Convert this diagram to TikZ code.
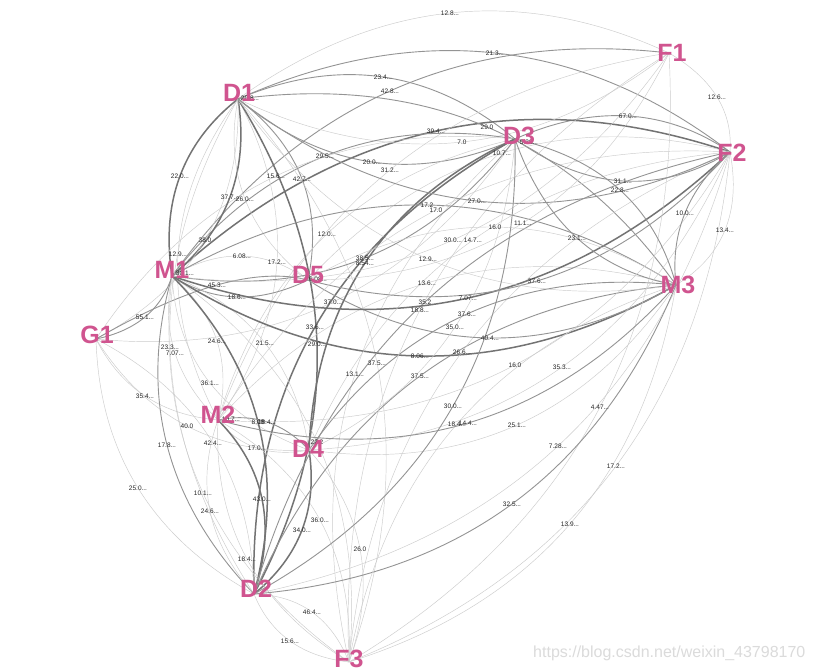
\documentclass[tikz,border=0pt]{standalone}
\usepackage{fontspec}
\setmainfont{Liberation Sans}
\usetikzlibrary{calc}
\definecolor{npink}{RGB}{208,84,143}
\pgfdeclarelayer{fg}
\pgfsetlayers{main,fg}
\tikzset{
  eL/.style={draw=black!20, line width=0.45pt},
  eM/.style={draw=black!42, line width=0.9pt},
  eT/.style={draw=black!55, line width=1.5pt},
  elbl/.style={font=\fontsize{6.5}{6.5}\selectfont, text=black!85, inner sep=0pt},
  nlbl/.style={font=\fontsize{25}{25}\selectfont\bfseries, text=npink, inner sep=0pt, anchor=base},
  wmark/.style={font=\fontsize{16}{16}\selectfont, text=black!14, inner sep=0pt, anchor=base west}
}
\newcommand\ed[7][eL]{%
  \coordinate (ll) at (#4,#5);
  \path let \p1=(#2), \p2=(#3), \p3=(ll) in
    ({2*(\x3)-0.5*(\x1)-0.5*(\x2)},{2*(\y3)-0.5*(\y1)-0.5*(\y2)}) coordinate (qq);
  \draw[#1] (#2) .. controls ($(#2)!0.6667!(qq)$) and ($(#3)!0.6667!(qq)$) .. (#3);
  \begin{pgfonlayer}{fg}\node[elbl] (#7) at (ll) {#6};\end{pgfonlayer}
}
\begin{document}
\begin{tikzpicture}[x=1pt,y=-1pt]
\useasboundingbox[fill=white] (0,0) rectangle (813,671);
% node points
\coordinate (F1) at (669,53);
\coordinate (D1) at (238,99);
\coordinate (D3) at (515,139);
\coordinate (F2) at (730,152);
\coordinate (M1) at (172,276);
\coordinate (D5) at (308,280);
\coordinate (M3) at (676,285);
\coordinate (G1) at (96,339);
\coordinate (M2) at (218,420);
\coordinate (D4) at (309,450);
\coordinate (D2) at (254,594);
\coordinate (F3) at (349,662);
% edges
\ed[eL]{D1}{F1}{450}{13}{12.8...}{e1}
\ed[eM]{D1}{F2}{495}{53}{21.3...}{e2}
\ed[eM]{D1}{D3}{383}{77}{23.4...}{e3}
\ed[eM]{M1}{F1}{390}{91}{42.8...}{e4}
\ed[eL]{F1}{F2}{717}{97}{12.6...}{e5}
\ed[eM]{D3}{F2}{628}{116}{67.0...}{e6}
\ed[eT]{M1}{F2}{436}{131}{39.4...}{e7}
\ed[eM]{D1}{M3}{487}{127}{29.0}{e8}
\ed[eL]{F1}{D1}{462}{142}{7.0}{e9}
\ed[eL]{D5}{F2}{502}{153}{10.7...}{e10}
\ed[eM]{D3}{D1}{372}{162}{20.0...}{e11}
\ed[eL]{M2}{F1}{390}{170}{31.2...}{e12}
\ed[eM]{M1}{D3}{325}{156}{29.5...}{e13}
\ed[eT]{M1}{D1}{180}{176}{22.0...}{e14}
\ed[eL]{G1}{D3}{276}{176}{15.6...}{e15}
\ed[eM]{D1}{D5}{302}{179}{42.7...}{e16}
\ed[eT]{D1}{M1}{230}{197}{37.7...}{e17}
\ed[eL]{D5}{D1}{245}{199}{26.0...}{e18}
\ed[eL]{D1}{G1}{205}{240}{38.0}{e19}
\ed[eL]{M2}{D1}{178}{254}{12.9...}{e20}
\ed[eL]{M1}{D5}{242}{256}{6.08...}{e21}
\ed[eL]{D1}{M2}{277}{262}{17.2...}{e22}
\ed[eL]{M2}{D3}{327}{234}{12.0...}{e23}
\ed[eM]{G1}{D5}{217}{285}{45.3...}{e24}
\ed[eM]{D5}{M1}{237}{297}{18.6...}{e25}
\ed[eL]{D3}{G1}{333}{302}{37.0...}{e26}
\ed[eM]{M1}{G1}{145}{317}{55.1...}{e27}
\ed[eT]{D2}{D3}{315}{327}{33.6...}{e28}
\ed[eL]{M1}{M2}{217}{341}{24.6...}{e29}
\ed[eL]{M1}{D4}{265}{343}{21.5...}{e30}
\ed[eT]{D1}{D2}{317}{344}{29.0...}{e31}
\ed[eL]{D2}{D1}{170}{347}{23.3...}{e32}
\ed[eL]{M2}{M1}{175}{353}{7.07...}{e33}
\ed[eL]{D4}{M1}{210}{383}{36.1...}{e34}
\ed[eL]{M2}{G1}{145}{396}{35.4...}{e35}
\ed[eL]{D4}{G1}{187}{426}{40.0}{e36}
\ed[eM]{D2}{M1}{167}{445}{17.8...}{e37}
\ed[eL]{G1}{D2}{213}{443}{42.4...}{e38}
\ed[eT]{M1}{D2}{258}{422}{8.08}{e39}
\ed[eM]{M2}{D4}{267}{422}{18.4...}{e40}
\ed[eL]{D4}{M2}{257}{448}{17.0...}{e41}
\ed[eL]{M1}{F3}{317}{442}{22.2}{e42}
\ed[eL]{D2}{G1}{138}{488}{25.0...}{e43}
\ed[eL]{F3}{M1}{203}{493}{10.1...}{e44}
\ed[eL]{D2}{M2}{210}{511}{24.6...}{e45}
\ed[eT]{M2}{D2}{262}{499}{43.0...}{e46}
\ed[eL]{M2}{F3}{320}{520}{36.0...}{e47}
\ed[eT]{D4}{D2}{302}{530}{34.0...}{e48}
\ed[eL]{F3}{M2}{247}{559}{18.4...}{e49}
\ed[eL]{D2}{F3}{312}{612}{46.4...}{e50}
\ed[eL]{F3}{D2}{290}{641}{15.6...}{e51}
\ed[eL]{D4}{F3}{360}{549}{26.0}{e52}
\ed[eL]{F3}{D3}{355}{374}{13.1...}{e53}
\ed[eL]{D1}{F3}{377}{363}{37.5...}{e54}
\ed[eM]{D2}{M3}{420}{376}{37.5...}{e55}
\ed[eT]{M3}{M1}{420}{356}{8.06...}{e56}
\ed[eL]{F3}{F2}{462}{352}{26.6...}{e57}
\ed[eM]{M3}{D5}{490}{338}{40.4...}{e58}
\ed[eL]{D3}{D4}{455}{327}{35.0...}{e59}
\ed[eM]{D4}{M3}{467}{314}{37.6...}{e60}
\ed[eL]{F3}{F1}{420}{310}{18.8...}{e61}
\ed[eM]{D2}{F2}{425}{302}{35.2}{e62}
\ed[eL]{M2}{M3}{427}{283}{13.6...}{e63}
\ed[eT]{F2}{M1}{468}{298}{7.07...}{e64}
\ed[eM]{F2}{D5}{537}{281}{37.6...}{e65}
\ed[eL]{M3}{D1}{428}{259}{12.9...}{e66}
\ed[eM]{D3}{M1}{365}{258}{38.5...}{e67}
\ed[eT]{D4}{D3}{365}{263}{8.54...}{e68}
\ed[eM]{M1}{M3}{427}{205}{17.2}{e69}
\ed[eL]{M2}{F2}{436}{210}{17.0}{e70}
\ed[eM]{F2}{D1}{477}{201}{27.0...}{e71}
\ed[eL]{D5}{M3}{495}{227}{16.0}{e72}
\ed[eL]{F1}{D5}{523}{223}{11.1...}{e73}
\ed[eL]{F1}{M1}{453}{240}{30.0...}{e74}
\ed[eL]{D4}{F2}{473}{240}{14.7...}{e75}
\ed[eM]{M3}{D3}{577}{238}{23.1...}{e76}
\ed[eL]{F2}{D4}{562}{367}{35.3...}{e77}
\ed[eL]{F1}{F3}{600}{407}{4.47...}{e78}
\ed[eL]{F2}{D2}{558}{446}{7.28...}{e79}
\ed[eL]{F2}{F3}{616}{466}{17.2...}{e80}
\ed[eL]{M3}{F3}{570}{524}{13.9...}{e81}
\ed[eM]{M3}{D2}{512}{504}{32.5...}{e82}
\ed[eL]{M3}{D4}{517}{425}{25.1...}{e83}
\ed[eM]{D3}{D2}{453}{406}{30.0...}{e84}
\ed[eL]{F3}{M3}{457}{424}{18.4...}{e85}
\ed[eM]{M3}{M2}{468}{423}{14.4...}{e86}
\ed[eL]{F2}{M2}{515}{365}{16.0}{e87}
\ed[eM]{M3}{F2}{685}{213}{10.0...}{e88}
\ed[eL]{F2}{M3}{725}{230}{13.4...}{e89}
\ed[eM]{F2}{D3}{623}{181}{31.1...}{e90}
\ed[eM]{D3}{M3}{620}{190}{22.8...}{e91}
\begin{pgfonlayer}{fg}
% labels at node points
\node[elbl] (s1) at (250,98) {20.8...};
\node[elbl] (s2) at (529,142) {5.28...};
\node[elbl] (s3) at (185,273) {30.1...};
\node[elbl] (s4) at (318,279) {6.08...};
\node[elbl] (s5) at (231,419) {10.7...};
% node names
\node[nlbl] (F1t) at (672,62) {F1};
\node[nlbl] (D1t) at (239,102) {D1};
\node[nlbl] (D3t) at (519,145) {D3};
\node[nlbl] (F2t) at (732,162) {F2};
\node[nlbl] (M1t) at (172,278) {M1};
\node[nlbl] (D5t) at (308,283) {D5};
\node[nlbl] (M3t) at (678,293) {M3};
\node[nlbl] (G1t) at (97,343) {G1};
\node[nlbl] (M2t) at (218,423) {M2};
\node[nlbl] (D4t) at (308,457) {D4};
\node[nlbl] (D2t) at (256,597) {D2};
\node[nlbl] (F3t) at (349,667) {F3};
\node[wmark] (wm) at (533,657) {https://blog.csdn.net/weixin\_43798170};
\end{pgfonlayer}
\end{tikzpicture}
\end{document}
